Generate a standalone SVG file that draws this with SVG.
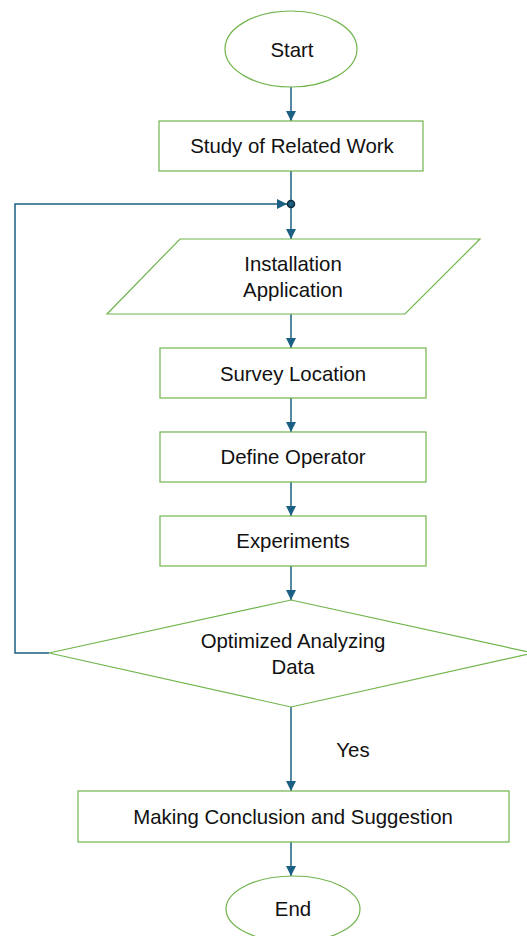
<svg xmlns="http://www.w3.org/2000/svg" width="527" height="936" viewBox="0 0 527 936">
<defs>
<style>
.shape{fill:#fff;stroke:#70b44c;stroke-width:1.2}
.lbl{font-family:"Liberation Sans",Arial,sans-serif;font-size:20.4px;fill:#111;text-anchor:middle}
.con{fill:none;stroke:#1b5f82;stroke-width:1.5}
</style>
<marker id="ah" viewBox="0 0 10 10" refX="10" refY="5" markerWidth="10" markerHeight="10" markerUnits="userSpaceOnUse" orient="auto">
<path d="M0,0 L10,5 L0,10 Z" fill="#1b5f82"/>
</marker>
</defs>
<rect width="527" height="936" fill="#fff"/>
<g id="connectors">
<line class="con" x1="291" y1="87" x2="291" y2="121" marker-end="url(#ah)"/>
<line class="con" x1="291" y1="171" x2="291" y2="204"/>
<line class="con" x1="291" y1="204" x2="291" y2="239" marker-end="url(#ah)"/>
<line class="con" x1="291" y1="314" x2="291" y2="348" marker-end="url(#ah)"/>
<line class="con" x1="291" y1="398" x2="291" y2="432" marker-end="url(#ah)"/>
<line class="con" x1="291" y1="482" x2="291" y2="516" marker-end="url(#ah)"/>
<line class="con" x1="291" y1="566" x2="291" y2="600" marker-end="url(#ah)"/>
<polyline class="con" points="49,653 15,653 15,204 287,204" marker-end="url(#ah)"/>
<line class="con" x1="291" y1="707" x2="291" y2="791" marker-end="url(#ah)"/>
<line class="con" x1="291" y1="842" x2="291" y2="876" marker-end="url(#ah)"/>
<circle cx="291" cy="204" r="3.5" fill="#1b5f82" stroke="#0d2a3a" stroke-width="1.5"/>
<text class="lbl" x="353" y="757">Yes</text>
</g>
<g id="start">
<ellipse class="shape" cx="291" cy="49" rx="66" ry="38"/>
<text class="lbl" x="292" y="57">Start</text>
</g>
<g id="study">
<rect class="shape" x="159" y="121" width="264" height="50"/>
<text class="lbl" x="292" y="153">Study of Related Work</text>
</g>
<g id="installation">
<polygon class="shape" points="180,239 480,239 405,314 107,314"/>
<text class="lbl" x="293" y="271">Installation</text>
<text class="lbl" x="293" y="297">Application</text>
</g>
<g id="survey">
<rect class="shape" x="160" y="348" width="266" height="50"/>
<text class="lbl" x="293" y="381">Survey Location</text>
</g>
<g id="define">
<rect class="shape" x="160" y="432" width="266" height="50"/>
<text class="lbl" x="293" y="464">Define Operator</text>
</g>
<g id="experiments">
<rect class="shape" x="160" y="516" width="266" height="50"/>
<text class="lbl" x="293" y="548">Experiments</text>
</g>
<g id="decision">
<polygon class="shape" points="291,600 533,653 291,707 49,653"/>
<text class="lbl" x="293" y="648">Optimized Analyzing</text>
<text class="lbl" x="293" y="674">Data</text>
</g>
<g id="conclusion">
<rect class="shape" x="78" y="791" width="431" height="51"/>
<text class="lbl" x="293" y="824">Making Conclusion and Suggestion</text>
</g>
<g id="end">
<ellipse class="shape" cx="293" cy="909" rx="67" ry="33"/>
<text class="lbl" x="293" y="916">End</text>
</g>
</svg>
